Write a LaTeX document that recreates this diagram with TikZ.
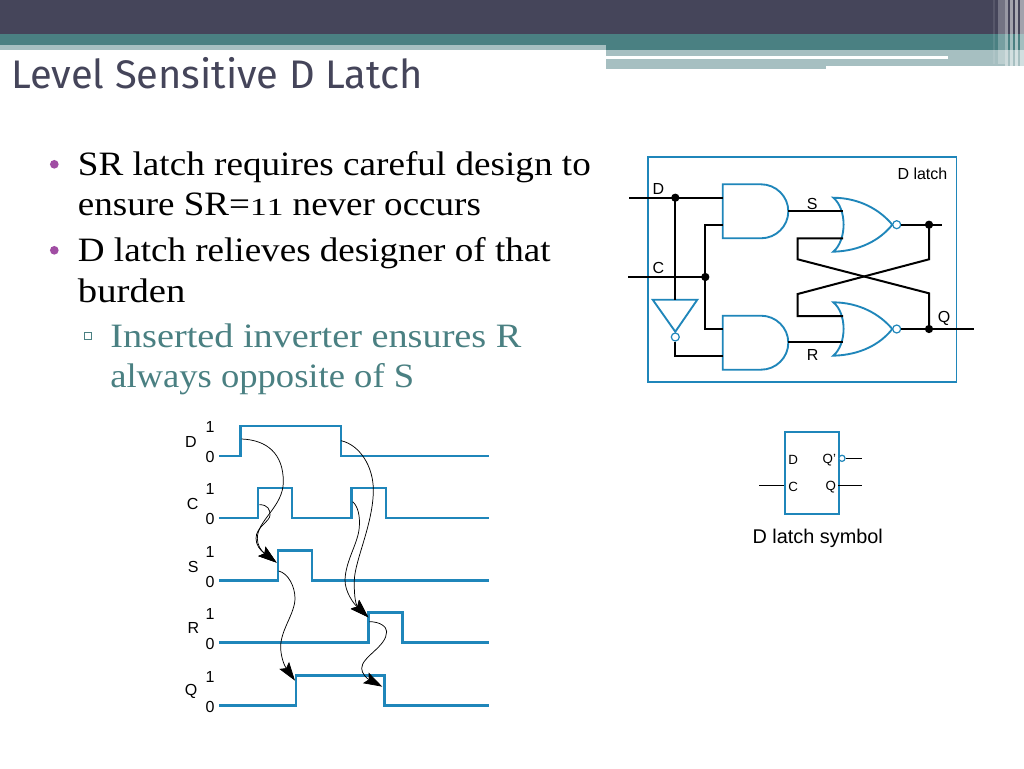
\documentclass[tikz,border=0pt]{standalone}
\usepackage{graphicx}
\usepackage{fontspec}
\usetikzlibrary{arrows.meta}
\setsansfont{Liberation Sans}
\setmainfont{Liberation Serif}
\newfontfamily\titlefont{Fira Sans}
\newfontfamily\bodyfont[FakeStretch=1.08]{Liberation Serif}
\definecolor{hdark}{HTML}{45455A}
\definecolor{hteal}{HTML}{4A8082}
\definecolor{hlight}{HTML}{A6BFC1}
\definecolor{wblue}{HTML}{1F86BA}
\definecolor{bpurple}{HTML}{A04DA3}
\newcommand{\oldone}{\scalebox{0.9}[0.72]{1}}
\tikzset{
  bodyline/.style={anchor=base west,inner sep=0pt,text=black,font=\bodyfont\fontsize{25.6}{28}\selectfont},
  subline/.style={bodyline,text=hteal},
  bulletdot/.style={circle,fill=bpurple,inner sep=0pt,minimum size=6.5},
  wave/.style={draw=wblue,line width=1.9pt,line join=miter},
  outline/.style={draw=wblue,line width=1.4pt,line join=miter},
  wire/.style={draw=black,line width=1.5pt,line join=miter},
  jdot/.style={circle,fill=black,inner sep=0pt,minimum size=6.2pt},
  bubble/.style={circle,draw=wblue,fill=white,line width=0.9pt,inner sep=0pt,minimum size=6pt},
  tlab/.style={inner sep=0pt,font=\sffamily\fontsize{12}{12}\selectfont},
  clab/.style={inner sep=0pt,font=\sffamily\fontsize{12}{12}\selectfont},
  slab/.style={inner sep=0pt,font=\sffamily\fontsize{10}{10}\selectfont},
  causal/.style={draw=black,line width=0.55pt,-{Stealth[length=14pt,width=9pt,inset=2.5pt]}},
}
\begin{document}
\begin{tikzpicture}[x=0.75pt,y=-0.75pt]
\useasboundingbox (0,0) rectangle (1024,768);
\fill[white] (0,0) rectangle (1024,768);
% header bands
\fill[hdark] (0,0) rectangle (1024,34);
\fill[hteal] (0,34) rectangle (1024,50);
\fill[hlight] (0,45) rectangle (606,50);
\fill[hlight] (606,50) rectangle (1024,66);
\fill[hlight] (606,66) rectangle (826,69);
\fill[white] (606,55.7) rectangle (948,58.7);
% right stripes
\fill[white,opacity=.10] (993,0) rectangle (995,64);
\fill[white,opacity=.25] (998,0) rectangle (1005,64);
\fill[white,opacity=.45] (1005,0) rectangle (1008,66);
\fill[white,opacity=.50] (1010,0) rectangle (1013,68);
\fill[white,opacity=.55] (1015,0) rectangle (1018,68);
\fill[white,opacity=.50] (1020,0) rectangle (1024,68);
% title
\node[anchor=base west,inner sep=0pt,text=hdark,font=\titlefont\fontsize{29.9}{32}\selectfont] (title) at (11,88.3) {Level Sensitive D Latch};
% bullets
\node[bulletdot] (b1) at (54.3,164.3) {};
\node[bulletdot] (b2) at (54.3,250.3) {};
\node[draw=hteal,line width=0.6pt,inner sep=0pt,minimum size=5pt] (b3) at (88,335.7) {};
\node[bodyline] (t1) at (77.7,175) {\scalebox{1.008}[1]{SR latch requires careful design to}};
\node[bodyline] (t2) at (77.7,215.7) {\scalebox{1.005}[1]{ensure SR=\oldone\oldone\ never occurs}};
\node[bodyline] (t3) at (77.7,261.4) {\scalebox{1.006}[1]{D latch relieves designer of that}};
\node[bodyline] (t4) at (77.7,302) {\scalebox{1.05}[1]{burden}};
\node[subline] (t5) at (110,347.3) {\scalebox{1.038}[1]{Inserted inverter ensures R}};
\node[subline] (t6) at (110,387.8) {\scalebox{0.993}[1]{always opposite of S}};
% D latch frame
\node[outline,draw,minimum width=231.6pt,minimum height=168.5pt,inner sep=0pt,anchor=north west] (frame) at (646.7,156) {};
\node[clab,anchor=east] (dlatch) at (947.6,173.3) {D latch};
% AND gates
\draw[outline] (722.7,184.3) -- (761,184.3) .. controls (776,184.3) and (788.3,196.4) .. (788.3,211.3) .. controls (788.3,226.2) and (776,238.3) .. (761,238.3) -- (722.7,238.3) -- cycle;
\draw[outline] (722.7,315.7) -- (761,315.7) .. controls (776,315.7) and (788.3,327.8) .. (788.3,342.7) .. controls (788.3,357.6) and (776,369.7) .. (761,369.7) -- (722.7,369.7) -- cycle;
% NOR gates
\draw[outline] (833.3,197.7) .. controls (860,198) and (880,210) .. (892.3,224.7) .. controls (880,240) and (860,251) .. (833.3,251.7) .. controls (847,240) and (847,209) .. (833.3,197.7) -- cycle;
\draw[outline] (833.3,302.3) .. controls (860,302.6) and (880,314.5) .. (892.3,329) .. controls (880,344.5) and (860,355) .. (833.3,355.7) .. controls (847,344) and (847,313.5) .. (833.3,302.3) -- cycle;
% inverter
\draw[outline] (652.7,299.7) -- (697.3,299.7) -- (675.3,331.7) -- cycle;
% junctions and ends
\coordinate (din) at (629.3,197.7);
\coordinate (cin) at (628.3,277);
\coordinate (a1a) at (722.7,197.7);
\coordinate (a1b) at (722.7,224.7);
\coordinate (a2a) at (722.7,329);
\coordinate (a2b) at (722.7,355.7);
\coordinate (invtop) at (675.3,299.7);
\coordinate (a1y) at (788.3,211.3);
\coordinate (a2y) at (788.3,342.3);
\coordinate (n1a) at (843,211.3);
\coordinate (n1b) at (843,238.3);
\coordinate (n2a) at (843,316);
\coordinate (n2b) at (843,342.3);
\coordinate (qbout) at (941.7,224.7);
\coordinate (qout) at (974.3,329);
\node[jdot] (jd) at (675.3,197.7) {};
\node[jdot] (jc) at (705.3,277) {};
\node[jdot] (jq1) at (929,224.7) {};
\node[jdot] (jq2) at (929,329) {};
\node[bubble] (binv) at (675.3,337) {};
\node[bubble] (bn1) at (896.7,224.7) {};
\node[bubble] (bn2) at (896.7,329) {};
% wires
\draw[wire] (din) -- (jd.center) -- (a1a);
\draw[wire] (jd.center) -- (invtop);
\draw[wire] (cin) -- (jc.center);
\draw[wire] (a1b) -- (705.3,224.7) -- (jc.center) -- (705.3,329) -- (a2a);
\draw[wire] (binv.south) -- (675.3,355.7) -- (a2b);
\draw[wire] (a1y) -- (n1a);
\draw[wire] (a2y) -- (n2b);
\draw[wire] (bn1.east) -- (qbout);
\draw[wire] (bn2.east) -- (qout);
\draw[wire] (n1b) -- (797.7,238.3) -- (797.7,259.3) -- (929,293.3) -- (jq2.center);
\draw[wire] (n2a) -- (797.7,316) -- (797.7,294) -- (929,259.3) -- (jq1.center);
% labels
\node[clab] (ld) at (658.3,189.3) {D};
\node[clab] (lc) at (658.3,268.3) {C};
\node[clab] (ls) at (812.3,204) {S};
\node[clab] (lr) at (812.7,355) {R};
\node[clab] (lq) at (944,318) {Q};
% timing
\draw[wave] (219,456) -- (240.7,456) -- (240.7,426) -- (341,426) -- (341,456) -- (489,456);
\draw[wave] (219,518) -- (258,518) -- (258,488) -- (292,488) -- (292,518) -- (351.7,518) -- (351.7,488) -- (386,488) -- (386,518) -- (489,518);
\draw[wave] (219,580.3) -- (278,580.3) -- (278,550.7) -- (312,550.7) -- (312,580.3) -- (489,580.3);
\draw[wave] (219,642.7) -- (368.7,642.7) -- (368.7,612.7) -- (402.7,612.7) -- (402.7,642.7) -- (489,642.7);
\draw[wave] (219,705.3) -- (296,705.3) -- (296,675.7) -- (384.3,675.7) -- (384.3,705.3) -- (489,705.3);
\foreach \nm/\yy in {d1/427,c1/489,s1/552,r1/614,q1/677}{\node[tlab] (one\nm) at (210,\yy) {1};}
\foreach \nm/\yy in {d0/457,c0/519,s0/582,r0/644,q0/707}{\node[tlab] (zero\nm) at (210,\yy) {0};}
\node[tlab] (wd) at (191,441.7) {D};
\node[tlab] (wc) at (192.7,504) {C};
\node[tlab] (ws) at (193.3,567.3) {S};
\node[tlab] (wr) at (193.3,628.3) {R};
\node[tlab] (wq) at (191,691.7) {Q};
% causal arrows
\begin{scope}[shift={(170,410)},scale=0.33333]
\coordinate (sTip) at (320,458);
\coordinate (rTip) at (595,622);
\coordinate (q1Tip) at (375,812);
\coordinate (q2Tip) at (637,830);
\draw[causal] (215,87) .. controls (290,90) and (340,130) .. (340,215) .. controls (340,290) and (262,330) .. (262,385) .. controls (262,405) and (272,421) .. (sTip);
\draw[causal] (268,284) .. controls (295,284) and (300,300) .. (300,315) .. controls (300,335) and (258,350) .. (258,385) .. controls (258,405) and (270,420) .. (sTip);
\draw[causal] (513,92) .. controls (570,105) and (610,170) .. (610,240) .. controls (610,340) and (555,450) .. (553,510) .. controls (552,545) and (555,582) .. (rTip);
\draw[causal] (548,275) .. controls (565,290) and (570,320) .. (568,350) .. controls (565,400) and (527,450) .. (525,510) .. controls (525,545) and (550,580) .. (rTip);
\draw[causal] (326,483) .. controls (355,490) and (375,530) .. (375,565) .. controls (375,610) and (332,660) .. (332,710) .. controls (332,740) and (343,767) .. (q1Tip);
\draw[causal] (598,635) .. controls (630,635) and (650,650) .. (650,665) .. controls (650,710) and (575,740) .. (575,775) .. controls (575,790) and (590,805) .. (q2Tip);
\end{scope}
% symbol
\node[outline,draw,minimum width=40.75pt,minimum height=62pt,inner sep=0pt,anchor=north west] (sym) at (784,430.7) {};
\node[slab] (sd) at (793.3,460) {D};
\node[slab] (sqb) at (829.3,460) {Q'};
\node[slab] (sc) at (793.3,486.7) {C};
\node[slab] (sq) at (830.7,486.7) {Q};
\node[bubble,minimum size=4.6pt] (sb) at (842,458.3) {};
\coordinate (sbe) at (862.3,458.3);
\coordinate (sqe) at (862.3,485.7);
\coordinate (sce) at (759,485.7);
\coordinate (sqs) at (838.3,485.7);
\coordinate (scs) at (784,485.7);
\draw[black,line width=1pt] (sb.east) -- (sbe);
\draw[black,line width=1pt] (sqs) -- (sqe);
\draw[black,line width=1pt] (sce) -- (scs);
\node[inner sep=0pt,font=\sffamily\fontsize{14.9}{16}\selectfont] (cap) at (817.7,538) {D latch symbol};
\end{tikzpicture}
\end{document}
